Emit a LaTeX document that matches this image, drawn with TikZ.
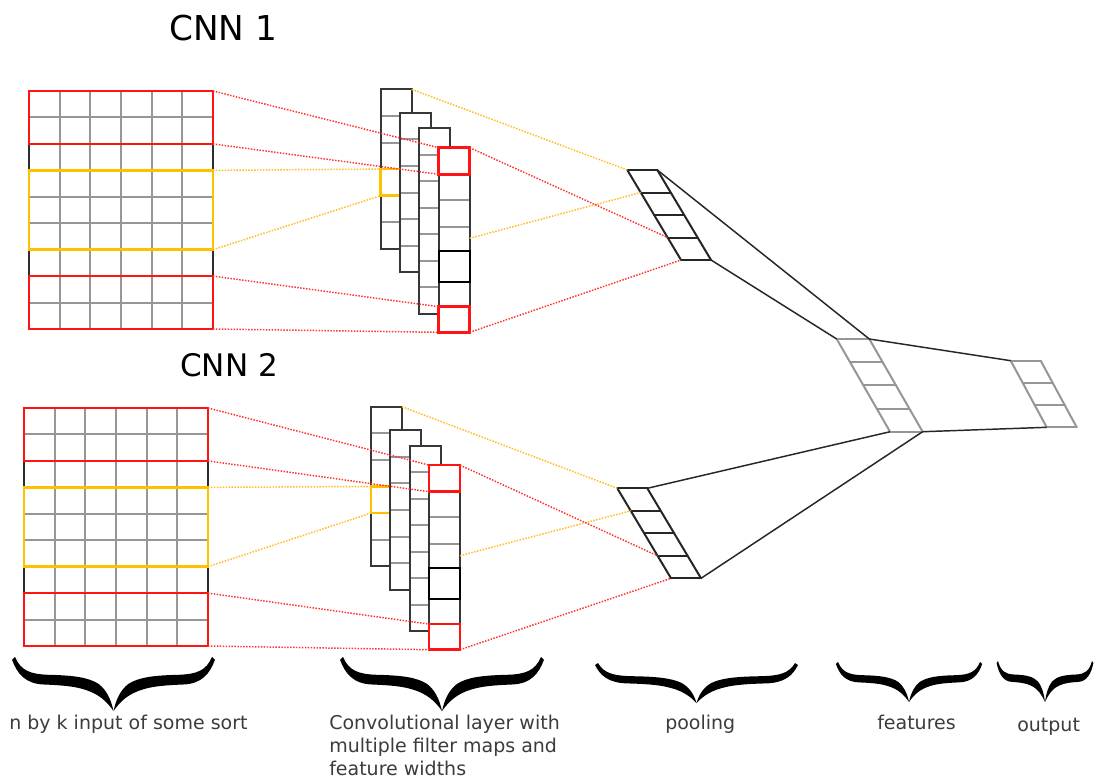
\documentclass[tikz,border=0pt]{standalone}
\usepackage{fontspec}
\setmainfont{DejaVu Sans}
\usetikzlibrary{calc}

\definecolor{gridgray}{RGB}{150,150,150}
\definecolor{edgedark}{RGB}{45,45,45}
\definecolor{boxred}{RGB}{255,20,20}
\definecolor{boxyellow}{RGB}{255,192,0}
\definecolor{linkred}{RGB}{255,50,50}
\definecolor{linkyellow}{RGB}{255,188,30}
\definecolor{framedark}{RGB}{55,55,55}
\definecolor{featgray}{RGB}{150,150,150}
\definecolor{labelgray}{RGB}{60,60,60}

\tikzset{
  px/.style={x=0.75pt,y=-0.75pt},
  gridline/.style={draw=gridgray,line width=1.5pt},
  gridedge/.style={draw=edgedark,line width=1.5pt},
  redbox/.style={draw=boxred,line width=1.9pt},
  yellowbox/.style={draw=boxyellow,line width=1.9pt},
  stripframe/.style={draw=framedark,line width=1.5pt},
  darkbox/.style={draw=black,line width=1.6pt},
  redlink/.style={draw=linkred,line width=1.1pt,dash pattern=on 1.1pt off 1.1pt},
  yellowlink/.style={draw=linkyellow,line width=1.1pt,dash pattern=on 1.1pt off 1.1pt},
  poolline/.style={draw=black!85,line width=1.5pt,line cap=round},
  featline/.style={draw=featgray,line width=1.5pt,line cap=round},
  wire/.style={draw=black!85,line width=1.1pt},
  title/.style={inner sep=0pt,anchor=base west,font=\fontsize{25.7}{30}\selectfont},
  caption/.style={inner sep=0pt,anchor=base west,text=labelgray,
    font=\fontsize{14.25}{17.25}\selectfont,align=left},
}

% n-by-k input matrix with its highlighted row windows
\newcommand\inputgrid[3]{% #1 name, #2 left, #3 top
  \begin{scope}[shift={(#2,#3)}]
    \foreach \ci in {1,...,5} \draw[gridline] ({\ci*30.667},0) -- ({\ci*30.667},238);
    \foreach \ri in {1,...,8} \draw[gridline] (0,{\ri*26.444}) -- (184,{\ri*26.444});
    \draw[gridedge] (0,52.889) -- (0,79.333) (184,52.889) -- (184,79.333)
                    (0,158.667) -- (0,185.111) (184,158.667) -- (184,185.111);
    \draw[redbox] (0,0) rectangle (184,52.889);
    \draw[yellowbox] (0,79.333) rectangle (184,158.667);
    \draw[redbox] (0,185.111) rectangle (184,238);
    \coordinate (#1-r0) at (184,0);
    \coordinate (#1-r2) at (184,52.889);
    \coordinate (#1-r3) at (184,79.333);
    \coordinate (#1-r6) at (184,158.667);
    \coordinate (#1-r7) at (184,185.111);
    \coordinate (#1-r9) at (184,238);
  \end{scope}}

% one filter map: a column of cells
\newcommand\filterstrip[5]{% #1 name, #2 left, #3 top, #4 height, #5 inner line offsets
  \fill[white] (#2,#3) rectangle ++(31,#4);
  \foreach \yy in {#5} \draw[gridline] (#2,{#3+\yy}) -- ++(31,0);
  \draw[stripframe] (#2,#3) rectangle ++(31,#4);
  \coordinate (#1-tl) at (#2,#3);
  \coordinate (#1-tr) at ({#2+31},#3);
  \coordinate (#1-bl) at (#2,{#3+#4});
  \coordinate (#1-br) at ({#2+31},{#3+#4});}

% slanted stack of cells (pooling, features, output)
\newcommand\slantstack[8]{% #1 name, #2 left, #3 top, #4 width, #5 cells, #6 cell height, #7 slant per cell, #8 style
  \foreach \k in {0,...,#5} {
    \draw[#8] ({#2+\k*#7},{#3+\k*#6}) -- ++(#4,0);
    \coordinate (#1-\k) at ({#2+\k*#7},{#3+\k*#6});
  }
  \draw[#8] (#2,#3) -- ++({#5*#7},{#5*#6});
  \draw[#8] ({#2+#4},#3) -- ++({#5*#7},{#5*#6});
  \coordinate (#1-tr) at ({#2+#4},#3);
  \coordinate (#1-br) at ({#2+#4+#5*#7},{#3+#5*#6});}

% heavy curly brace opening upwards, drawn as two mirrored halves
\newcommand\bracehalf{%
  \fill[black] (0,0) .. controls (0.06,0.25) and (0.15,0.32) .. (0.35,0.33)
    .. controls (0.6,0.34) and (0.75,0.38) .. (0.85,0.5)
    .. controls (0.92,0.6) and (0.97,0.75) .. (1,1)
    .. controls (0.93,0.82) and (0.85,0.68) .. (0.7,0.6)
    .. controls (0.6,0.54) and (0.45,0.52) .. (0.3,0.51)
    .. controls (0.1,0.5) and (0.02,0.3) .. (-0.03,0.05) -- cycle;}
\newcommand\curlybrace[4]{% #1 left, #2 right, #3 top, #4 tip
  \pgfmathsetmacro\bw{(#2-#1)/2}
  \pgfmathsetmacro\bh{#4-#3}
  \begin{scope}[shift={(#1,#3)},x={(\bw*0.75pt,0)},y={(0,-\bh*0.75pt)}]
    \bracehalf
  \end{scope}
  \begin{scope}[shift={(#2,#3)},x={(-\bw*0.75pt,0)},y={(0,-\bh*0.75pt)}]
    \bracehalf
  \end{scope}}

% one CNN branch: input, convolution maps, pooling and their links
\newcommand\cnnbranch[7]{% #1 prefix, #2/#3 input origin, #4/#5 conv origin, #6/#7 pooling origin
  \inputgrid{#1-in}{#2}{#3}
  \begin{scope}[shift={(#4,#5)}]
    \filterstrip{#1-s1}{0}{0}{159.6}{26.6,53.2,79.8,106.4,133}
    \draw[yellowbox] (0,79.8) rectangle (31,106.4);
    \coordinate (#1-yt) at (0,79.8);
    \coordinate (#1-yb) at (0,106.4);
    \filterstrip{#1-s2}{19.3}{23.4}{159.6}{26.6,53.2,79.8,106.4,133}
    \filterstrip{#1-s3}{38.6}{39}{185.7}{26.5,53,79.5,106,132.5,159}
    \filterstrip{#1-s4}{58}{58.4}{184.6}{26.6,52.3,79,159}
    \draw[darkbox] (58,161.7) rectangle ++(31,30.7);
    \draw[redbox] (58,58.4) rectangle ++(31,26.6);
    \draw[redbox] (58,217.4) rectangle ++(31,25.6);
    \coordinate (#1-s4-c1) at (58,85);
    \coordinate (#1-s4-c6) at (58,217.4);
    \coordinate (#1-s4-mid) at (89,149);
  \end{scope}
  \slantstack{#1-pool}{#6}{#7}{30}{4}{22.5}{13.43}{poolline}
  \draw[redlink] (#1-in-r0) -- (#1-s4-tl);
  \draw[redlink] (#1-in-r2) -- (#1-s4-c1);
  \draw[yellowlink] (#1-in-r3) -- (#1-yt);
  \draw[yellowlink] (#1-in-r6) -- (#1-yb);
  \draw[redlink] (#1-in-r7) -- (#1-s4-c6);
  \draw[redlink] (#1-in-r9) -- (#1-s4-bl);
  \draw[yellowlink] (#1-s1-tr) -- (#1-pool-0);
  \draw[yellowlink] (#1-s4-mid) -- (#1-pool-1);
  \draw[redlink] (#1-s4-tr) -- (#1-pool-3);
  \draw[redlink] (#1-s4-br) -- (#1-pool-4);}

\begin{document}
\begin{tikzpicture}[px]
  \fill[white] (0,0) rectangle (1098,778);
  \useasboundingbox (0,0) rectangle (1098,778);

  \node[title] (title1) at (169,40) {CNN 1};
  \node[title,font=\fontsize{23.3}{28}\selectfont] (title2) at (180,376.7) {CNN 2};

  \cnnbranch{cnn1}{29}{91}{380.7}{89.3}{627.3}{170}
  \cnnbranch{cnn2}{24}{408}{371}{406.7}{617.3}{488.3}

  % merged feature vector and output
  \slantstack{feat}{836.7}{339}{32.6}{4}{23.18}{13.33}{featline}
  \slantstack{out}{1010.7}{360.7}{30}{3}{22.2}{12}{featline}
  \draw[wire] (cnn1-pool-tr) -- (feat-tr);
  \draw[wire] (cnn1-pool-br) -- (feat-0);
  \draw[wire] (cnn2-pool-tr) -- (feat-4);
  \draw[wire] (cnn2-pool-br) -- (feat-br);
  \draw[wire] (feat-tr) -- (out-0);
  \draw[wire] (feat-br) -- (out-3);

  % stage braces and captions
  \curlybrace{15}{212}{657}{711}
  \curlybrace{343}{541}{657}{711}
  \curlybrace{598}{795}{663}{703}
  \curlybrace{838}{980}{662}{702}
  \curlybrace{998}{1092}{661}{702}

  \node[caption] (cap-input) at (9,729) {n by k input of some sort};
  \node[caption] (cap-conv) at (329,775) {Convolutional layer with\\multiple filter maps and\\feature widths};
  \node[caption] (cap-pool) at (665,729) {pooling};
  \node[caption] (cap-feat) at (877,729) {features};
  \node[caption] (cap-out) at (1017,731) {output};
\end{tikzpicture}
\end{document}
